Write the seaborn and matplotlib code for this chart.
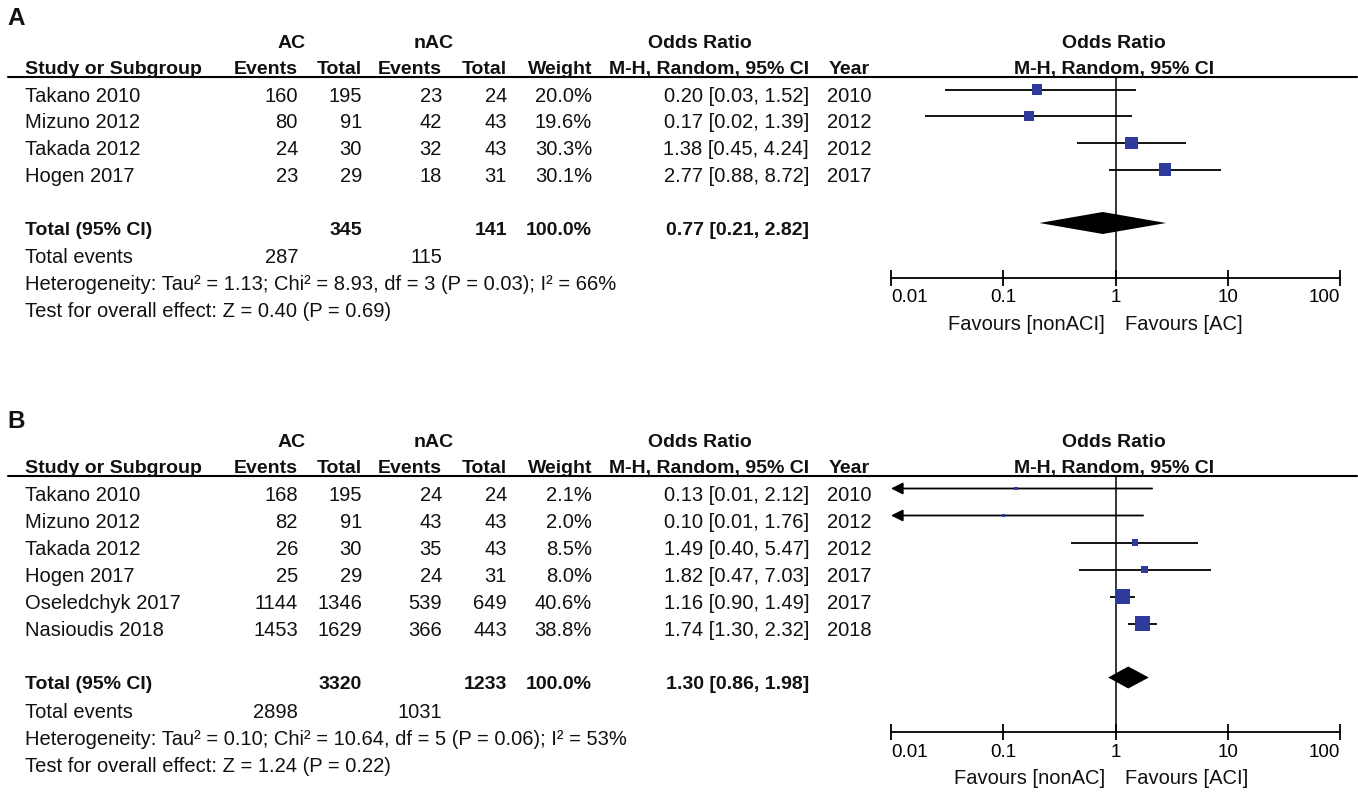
import numpy as np
import pandas as pd
import seaborn as sns
import matplotlib
matplotlib.use('Agg')
import matplotlib.pyplot as plt

# ----------------------------------
# Data: panel A
# ----------------------------------
studies_a = ['Takano 2010', 'Mizuno 2012', 'Takada 2012', 'Hogen 2017']
ac_events_a = [160, 80, 24, 23]
ac_total_a = [195, 91, 30, 29]
nac_events_a = [23, 42, 32, 18]
nac_total_a = [24, 43, 43, 31]
weight_a = [20.0, 19.6, 30.3, 30.1]
or_a = [0.20, 0.17, 1.38, 2.77]
lo_a = [0.03, 0.02, 0.45, 0.88]
hi_a = [1.52, 1.39, 4.24, 8.72]
year_a = [2010, 2012, 2012, 2017]
pooled_a = [0.77, 0.21, 2.82]
totals_a = [345, 141]
tot_events_a = [287, 115]
het_a = 'Heterogeneity: Tau² = 1.13; Chi² = 8.93, df = 3 (P = 0.03); I² = 66%'
test_a = 'Test for overall effect: Z = 0.40 (P = 0.69)'
favours_a = ['Favours [nonACI]', 'Favours [AC]']

# ----------------------------------
# Data: panel B
# ----------------------------------
studies_b = ['Takano 2010', 'Mizuno 2012', 'Takada 2012', 'Hogen 2017',
             'Oseledchyk 2017', 'Nasioudis 2018']
ac_events_b = [168, 82, 26, 25, 1144, 1453]
ac_total_b = [195, 91, 30, 29, 1346, 1629]
nac_events_b = [24, 43, 35, 24, 539, 366]
nac_total_b = [24, 43, 43, 31, 649, 443]
weight_b = [2.1, 2.0, 8.5, 8.0, 40.6, 38.8]
or_b = [0.13, 0.10, 1.49, 1.82, 1.16, 1.74]
lo_b = [0.01, 0.01, 0.40, 0.47, 0.90, 1.30]
hi_b = [2.12, 1.76, 5.47, 7.03, 1.49, 2.32]
year_b = [2010, 2012, 2012, 2017, 2017, 2018]
pooled_b = [1.30, 0.86, 1.98]
totals_b = [3320, 1233]
tot_events_b = [2898, 1031]
het_b = 'Heterogeneity: Tau² = 0.10; Chi² = 10.64, df = 5 (P = 0.06); I² = 53%'
test_b = 'Test for overall effect: Z = 1.24 (P = 0.22)'
favours_b = ['Favours [nonAC]', 'Favours [ACI]']

axis_ticks = [0.01, 0.1, 1, 10, 100]
axis_labels = ['0.01', '0.1', '1', '10', '100']

sns.set_theme(style='white')
plt.rcParams['font.family'] = ['Liberation Sans', 'DejaVu Sans']

W, H = 1358, 792
FS = 14.5      # plain text
FSB = 14.0     # bold text
BLUE = '#2e3b9c'

fig = plt.figure(figsize=(W / 100, H / 100), dpi=100)
bg = fig.add_axes([0, 0, 1, 1])
bg.set_xlim(0, W)
bg.set_ylim(H, 0)
bg.axis('off')


def txt(x, y, s, ha='left', bold=False, size=None):
    # y is the centre of the capitals, in pixels
    if size is None:
        size = FSB if bold else FS
    bg.text(x, y + 0.358 * size / 0.72, s, ha=ha, va='baseline', fontsize=size,
            fontweight='bold' if bold else 'normal', color='#111111')


def panel(letter, letter_y, top, step, names, ae, at, ne, nt, wt, est, lo, hi, yrs,
          pooled, totals, tot_events, het, test, favours):
    h2 = top + 26.5
    line_y = top + 35.5
    row0 = top + 53.5
    n = len(names)
    ys = row0 + step * np.arange(n)
    total_y = row0 + step * (n + 1)
    axis_y = total_y + 49.5

    txt(7, letter_y, letter, bold=True, size=17.5)

    # headers
    txt(292, top, 'AC', ha='center', bold=True)
    txt(434, top, 'nAC', ha='center', bold=True)
    txt(700, top, 'Odds Ratio', ha='center', bold=True)
    txt(1114, top, 'Odds Ratio', ha='center', bold=True)
    txt(25, h2, 'Study or Subgroup', bold=True)
    for x, s in [(298, 'Events'), (362, 'Total'), (442, 'Events'), (507, 'Total'),
                 (592, 'Weight'), (809, 'M-H, Random, 95% CI'), (870, 'Year')]:
        txt(x, h2, s, ha='right', bold=True)
    txt(1114, h2, 'M-H, Random, 95% CI', ha='center', bold=True)
    bg.plot([8, 1357], [line_y, line_y], color='black', lw=1.5)

    # study rows
    for i in range(n):
        y = ys[i]
        txt(25, y, names[i])
        txt(298, y, str(ae[i]), ha='right')
        txt(362, y, str(at[i]), ha='right')
        txt(442, y, str(ne[i]), ha='right')
        txt(507, y, str(nt[i]), ha='right')
        txt(592, y, f'{wt[i]:.1f}%', ha='right')
        txt(809, y, f'{est[i]:.2f} [{lo[i]:.2f}, {hi[i]:.2f}]', ha='right')
        txt(872, y, str(yrs[i]), ha='right')

    # totals
    txt(25, total_y, 'Total (95% CI)', bold=True)
    txt(362, total_y, str(totals[0]), ha='right', bold=True)
    txt(507, total_y, str(totals[1]), ha='right', bold=True)
    txt(592, total_y, '100.0%', ha='right', bold=True)
    txt(809, total_y, f'{pooled[0]:.2f} [{pooled[1]:.2f}, {pooled[2]:.2f}]',
        ha='right', bold=True)
    txt(25, total_y + 28, 'Total events')
    txt(298, total_y + 28, str(tot_events[0]), ha='right')
    txt(442, total_y + 28, str(tot_events[1]), ha='right')
    txt(25, total_y + 55, het)
    txt(25, total_y + 82, test)

    # forest plot
    ax = fig.add_axes([891 / W, 1 - axis_y / H, (1340 - 891) / W, (axis_y - line_y) / H])
    ax.patch.set_visible(False)
    df = pd.DataFrame({'est': est, 'lo': lo, 'hi': hi, 'w': wt, 'y': ys - 5})
    for _, r in df.iterrows():
        if r['lo'] <= axis_ticks[0]:
            ax.annotate('', xy=(axis_ticks[0], r['y']), xytext=(r['hi'], r['y']),
                        arrowprops=dict(arrowstyle='-|>,head_length=0.7,head_width=0.35',
                                        color='black', lw=1.3, shrinkA=0, shrinkB=0,
                                        mutation_scale=10))
        else:
            ax.hlines(r['y'], r['lo'], r['hi'], color='black', lw=1.3)
    sns.scatterplot(data=df, x='est', y='y', size='w', sizes=(0, 137), size_norm=(0, 50),
                    marker='s', color=BLUE, linewidth=0, legend=False, ax=ax, zorder=3)
    ty = total_y - 5
    ax.fill([pooled[1], pooled[0], pooled[2], pooled[0]], [ty, ty - 11, ty, ty + 11],
            color='black', lw=0)
    ax.axvline(1, color='black', lw=1.1)

    ax.set_xscale('log')
    ax.set_xlim(axis_ticks[0], axis_ticks[-1])
    ax.set_ylim(axis_y, line_y)
    ax.set_xticks(axis_ticks)
    ax.set_xticklabels(axis_labels)
    ax.minorticks_off()
    ax.set_yticks([])
    ax.set_xlabel('')
    ax.set_ylabel('')
    for s in ['left', 'top', 'right']:
        ax.spines[s].set_visible(False)
    ax.spines['bottom'].set_color('black')
    ax.spines['bottom'].set_linewidth(1.3)
    ax.tick_params(axis='x', bottom=True, direction='inout', length=11, width=1.3,
                   pad=3, labelsize=13.5, colors='black')
    labels = ax.get_xticklabels()
    labels[0].set_ha('left')
    labels[-1].set_ha('right')

    txt(1105, axis_y + 45, favours[0], ha='right')
    txt(1125, axis_y + 45, favours[1], ha='left')


panel('A', 16, 41, 26.7, studies_a, ac_events_a, ac_total_a, nac_events_a, nac_total_a,
      weight_a, or_a, lo_a, hi_a, year_a, pooled_a, totals_a, tot_events_a,
      het_a, test_a, favours_a)
panel('B', 419, 440, 27.0, studies_b, ac_events_b, ac_total_b, nac_events_b, nac_total_b,
      weight_b, or_b, lo_b, hi_b, year_b, pooled_b, totals_b, tot_events_b,
      het_b, test_b, favours_b)

fig.savefig('out.png', dpi=100)
